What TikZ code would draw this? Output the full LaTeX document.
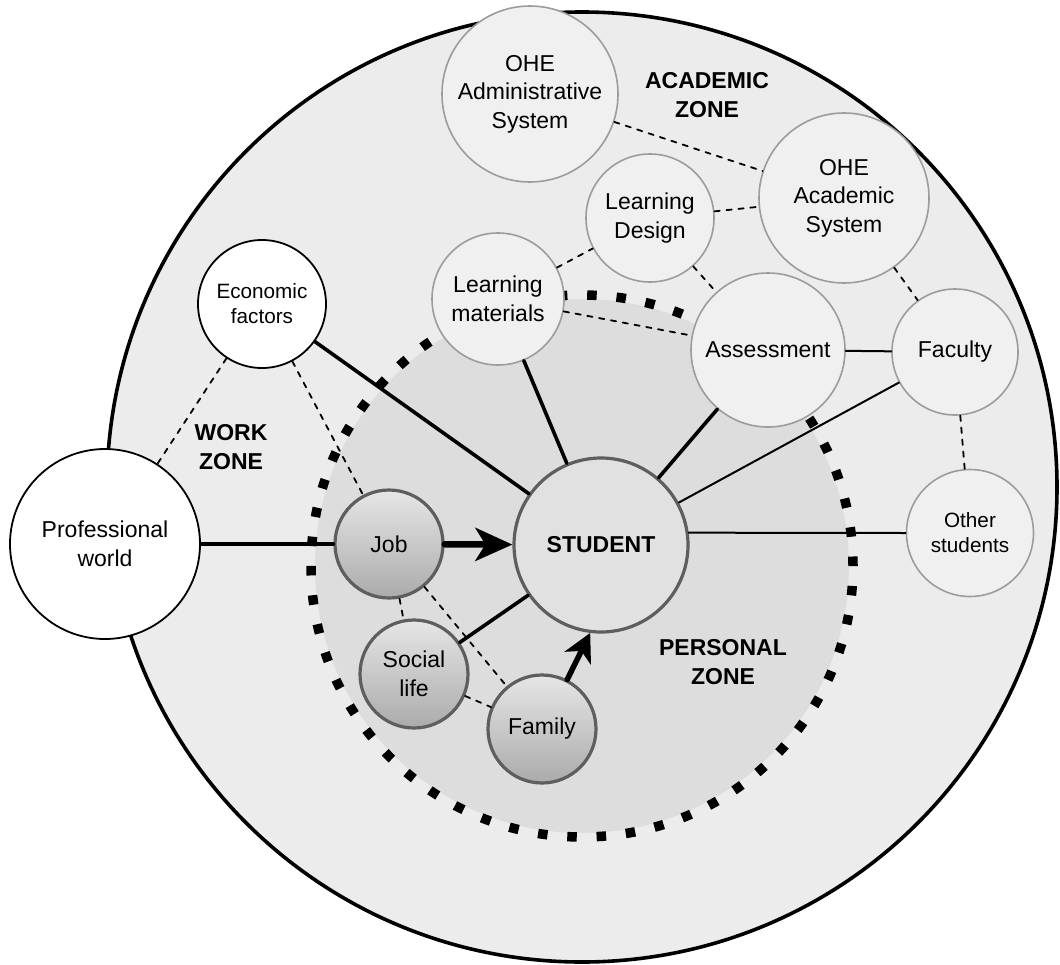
\documentclass[tikz,border=0pt]{standalone}
\usepackage{fontspec}
\setmainfont{Liberation Sans}
\usepackage{xcolor}
\usepackage{tikz}
\usetikzlibrary{arrows.meta}
\definecolor{zonebg}{HTML}{ECECEC}
\definecolor{personal}{HTML}{DDDDDD}
\definecolor{acadfill}{HTML}{F0F0F0}
\definecolor{acadline}{HTML}{9C9C9C}
\definecolor{lifeline}{HTML}{5E5E5E}
\definecolor{lifetop}{HTML}{E6E6E6}
\definecolor{lifemid}{HTML}{D0D0D0}
\definecolor{lifebot}{HTML}{ABABAB}
\definecolor{studfill}{HTML}{E1E1E1}
\newcommand{\nodefont}{\fontsize{23}{28.5}\selectfont}
\newcommand{\nodefontsmall}{\fontsize{20.7}{25}\selectfont}

\tikzset{
  acad/.style={circle, draw=acadline, line width=1.6pt, fill=acadfill,
    inner sep=0pt, align=center, font=\nodefont},
  outer/.style={circle, draw=black, line width=1.8pt, fill=white,
    inner sep=0pt, align=center, font=\nodefont},
  life/.style={circle, draw=lifeline, line width=3.2pt, top color=lifetop,
    middle color=lifemid, bottom color=lifebot, inner sep=0pt,
    minimum size=108pt, align=center, font=\nodefont},
  zonelabel/.style={font=\bfseries\nodefont, align=center},
  strong/.style={line width=3.6pt},
  plain/.style={line width=2pt},
  weak/.style={line width=1.8pt, dash pattern=on 5.4pt off 6.6pt},
}

\begin{document}
\begin{tikzpicture}[x=1pt, y=-1pt, line cap=round, line join=round]
  \useasboundingbox (0,0) rectangle (1060,964);

  % outer zone and the personal zone inside it
  \draw[line width=3.6pt, fill=zonebg] (582,487) circle (475pt);
  \fill[personal] (582,566) circle (267pt);
  \draw[line width=9.5pt, line cap=butt, dash pattern=on 9.5pt off 19.86pt]
    (582,566) circle (271pt);

  % work side
  \node[outer, minimum size=190pt] (prof) at (105,544) {Professional\\world};
  \node[outer, minimum size=128pt, font=\nodefontsmall] (econ) at (262,304) {Economic\\factors};

  % academic side
  \node[acad, minimum size=176pt] (admin) at (530,94) {OHE\\Administrative\\System};
  \node[acad, minimum size=170pt] (acsys) at (844,198) {OHE\\Academic\\System};
  \node[acad, minimum size=128pt] (design) at (650,218) {Learning\\Design};
  \node[acad, minimum size=132pt] (materials) at (498,299) {Learning\\materials};
  \node[acad, minimum size=154pt] (assess) at (768,350) {Assessment};
  \node[acad, minimum size=126pt] (faculty) at (955,352) {Faculty};
  \node[acad, minimum size=127pt, font=\nodefontsmall] (others) at (970,533) {Other\\students};

  % personal side
  \node[circle, draw=lifeline, line width=3.2pt, fill=studfill, inner sep=0pt,
    minimum size=174pt, font=\bfseries\nodefont] (student) at (601,545) {STUDENT};
  \node[life] (job) at (389,544) {Job};
  \node[life] (social) at (414,674) {Social\\life};
  \node[life] (family) at (542,729) {Family};

  % links into the student
  \draw[strong] (prof) -- (job);
  \draw[line width=6.5pt, -{Stealth[length=37pt,width=33pt,inset=10pt]}] (job) -- (student);
  \draw[line width=5.5pt, -{Stealth[length=28pt,width=29pt,inset=8pt]}] (family.63) -- (student.263);
  \draw[strong] (econ) -- (student);
  \draw[strong] (materials) -- (student);
  \draw[strong] (assess) -- (student);
  \draw[strong] (social) -- (student);
  \draw[plain] (faculty) -- (student);
  \draw[plain] (others.west) -- (student.8);
  \draw[plain] (assess) -- (faculty);

  % weaker ties
  \draw[weak] (econ) -- (prof);
  \draw[weak] (econ) -- (job);
  \draw[weak] (job) -- (social);
  \draw[weak] (job) -- (family);
  \draw[weak] (social) -- (family);
  \draw[weak] (materials) -- (design);
  \draw[weak] (materials) -- (assess);
  \draw[weak] (design) -- (assess);
  \draw[weak] (design) -- (acsys);
  \draw[weak] (admin) -- (acsys);
  \draw[weak] (acsys) -- (faculty);
  \draw[weak] (faculty) -- (others);

  % zone names
  \node[zonelabel] (workzone) at (231,447) {WORK\\ZONE};
  \node[zonelabel] (acadzone) at (707,95) {ACADEMIC\\ZONE};
  \node[zonelabel] (perszone) at (723,662) {PERSONAL\\ZONE};
\end{tikzpicture}
\end{document}
